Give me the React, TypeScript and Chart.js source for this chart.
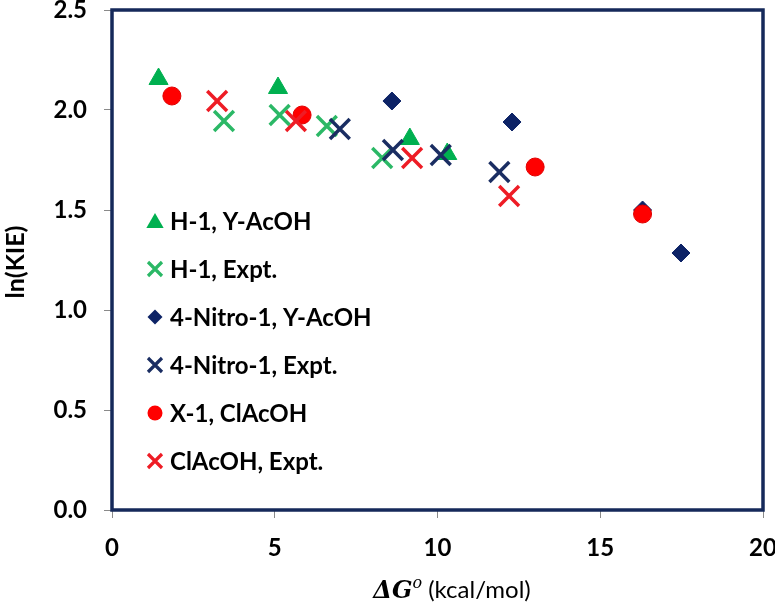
import React, { useEffect, useRef } from 'react';
import { Chart, registerables } from 'chart.js';

Chart.register(...registerables);

// ---- data ----
const hYAcOH_x = [1.43, 5.1, 9.15, 10.3];
const hYAcOH_y = [2.155, 2.11, 1.855, 1.78];

const hExpt_x = [3.44, 5.15, 6.6, 8.3];
const hExpt_y = [1.945, 1.975, 1.92, 1.76];

const nitroYAcOH_x = [8.6, 12.29, 16.3, 17.48];
const nitroYAcOH_y = [2.045, 1.94, 1.5, 1.285];

const nitroExpt_x = [7.0, 8.63, 10.1, 11.9];
const nitroExpt_y = [1.905, 1.8, 1.775, 1.69];

const x1ClAcOH_x = [1.84, 5.84, 13.0, 16.3];
const x1ClAcOH_y = [2.07, 1.975, 1.715, 1.48];

const clExpt_x = [3.23, 5.65, 9.22, 12.2];
const clExpt_y = [2.045, 1.945, 1.76, 1.57];

const seriesLabels = [
  'H-1, Y-AcOH',
  'H-1, Expt.',
  '4-Nitro-1, Y-AcOH',
  '4-Nitro-1, Expt.',
  'X-1, ClAcOH',
  'ClAcOH, Expt.',
];

const xTicks = [0, 5, 10, 15, 20];
const yTicks = [0, 0.5, 1.0, 1.5, 2.0, 2.5];

const GREEN = '#00b050';
const GREEN_X = '#2bb866';
const NAVY = '#0d2366';
const NAVY_X = '#1a2d62';
const RED = '#ff0000';
const RED_X = '#ee1c25';
const FRAME = '#15295a';

const FONT = 'Lato, "Open Sans", sans-serif';

const zip = (xs: number[], ys: number[]) => xs.map((x, i) => ({ x, y: ys[i] }));

type Marker = { style: string; color: string };
const legendMarkers: Marker[] = [
  { style: 'triangle', color: GREEN },
  { style: 'crossRot', color: GREEN_X },
  { style: 'rectRot', color: NAVY },
  { style: 'crossRot', color: NAVY_X },
  { style: 'circle', color: RED },
  { style: 'crossRot', color: RED_X },
];

function drawMarker(ctx: CanvasRenderingContext2D, m: Marker, x: number, y: number) {
  ctx.save();
  ctx.fillStyle = m.color;
  ctx.strokeStyle = m.color;
  ctx.beginPath();
  if (m.style === 'triangle') {
    const r = 10;
    ctx.moveTo(x, y - r);
    ctx.lineTo(x + r * 0.866, y + r * 0.5);
    ctx.lineTo(x - r * 0.866, y + r * 0.5);
    ctx.closePath();
    ctx.fill();
  } else if (m.style === 'crossRot') {
    const h = 7;
    ctx.lineWidth = 3.2;
    ctx.moveTo(x - h, y - h);
    ctx.lineTo(x + h, y + h);
    ctx.moveTo(x + h, y - h);
    ctx.lineTo(x - h, y + h);
    ctx.stroke();
  } else if (m.style === 'rectRot') {
    const r = 7.5;
    ctx.moveTo(x, y - r);
    ctx.lineTo(x + r, y);
    ctx.lineTo(x, y + r);
    ctx.lineTo(x - r, y);
    ctx.closePath();
    ctx.fill();
  } else {
    ctx.arc(x, y, 7.5, 0, Math.PI * 2);
    ctx.fill();
  }
  ctx.restore();
}

const decorPlugin = {
  id: 'decor',
  beforeDatasetsDraw(chart: any) {
    const { ctx, chartArea } = chart;
    ctx.save();
    ctx.strokeStyle = FRAME;
    ctx.lineWidth = 3.5;
    ctx.strokeRect(chartArea.left, chartArea.top, chartArea.right - chartArea.left, chartArea.bottom - chartArea.top);
    ctx.restore();
  },
  afterDraw(chart: any) {
    const { ctx, chartArea } = chart;
    ctx.save();
    // legend
    ctx.textBaseline = 'middle';
    ctx.textAlign = 'left';
    ctx.fillStyle = '#000';
    ctx.font = `bold 24px ${FONT}`;
    const lx = chartArea.left + 43;
    const ly0 = 221;
    const step = 48;
    seriesLabels.forEach((label, i) => {
      const y = ly0 + i * step;
      drawMarker(ctx, legendMarkers[i], lx, y + (legendMarkers[i].style === 'triangle' ? 2 : 0));
      ctx.fillStyle = '#000';
      ctx.fillText(label, lx + 15, y + 1);
    });

    // y axis title
    ctx.save();
    ctx.translate(16, 262);
    ctx.rotate(-Math.PI / 2);
    ctx.textAlign = 'center';
    ctx.textBaseline = 'middle';
    ctx.font = `bold 25px ${FONT}`;
    ctx.fillText('ln(KIE)', 0, 0);
    ctx.restore();

    // x axis title: ΔG^o (kcal/mol)
    const f1 = 'bold italic 24px "DejaVu Serif", "Liberation Serif", serif';
    const f2 = 'italic 16px "DejaVu Serif", "Liberation Serif", serif';
    const f3 = `24px ${FONT}`;
    const t1 = 'ΔG';
    const t2 = 'o';
    const t3 = ' (kcal/mol)';
    ctx.textBaseline = 'alphabetic';
    ctx.font = f1;
    const w1 = ctx.measureText(t1).width;
    ctx.font = f2;
    const w2 = ctx.measureText(t2).width;
    ctx.font = f3;
    const w3 = ctx.measureText(t3).width;
    const total = w1 + w2 + w3;
    let x = 452 - total / 2;
    const base = 598;
    ctx.font = f1;
    ctx.fillText(t1, x, base);
    x += w1;
    ctx.font = f2;
    ctx.fillText(t2, x, base - 10);
    x += w2;
    ctx.font = f3;
    ctx.fillText(t3, x, base);
    ctx.restore();
  },
};

const zeroPad = (scale: any) => {
  scale.paddingTop = 0;
  scale.paddingBottom = 0;
  scale.paddingLeft = 0;
  scale.paddingRight = 0;
};

export default function App() {
  const ref = useRef<HTMLCanvasElement>(null);

  useEffect(() => {
    document.body.style.margin = '0';
    if (!ref.current) return;
    const cross = (color: string, order: number, label: string, data: any[]) => ({
      label,
      data,
      order,
      pointStyle: 'crossRot',
      pointRadius: 14,
      pointBorderWidth: 3.5,
      borderColor: color,
      backgroundColor: color,
      showLine: false,
    });
    const chart = new Chart(ref.current, {
      type: 'scatter',
      data: {
        datasets: [
          {
            label: seriesLabels[0],
            data: zip(hYAcOH_x, hYAcOH_y),
            order: 6,
            pointStyle: 'triangle',
            pointRadius: 11,
            pointBorderWidth: 1,
            borderColor: GREEN,
            backgroundColor: GREEN,
          },
          cross(GREEN_X, 5, seriesLabels[1], zip(hExpt_x, hExpt_y)),
          {
            label: seriesLabels[2],
            data: zip(nitroYAcOH_x, nitroYAcOH_y),
            order: 4,
            pointStyle: 'rectRot',
            pointRadius: 9,
            pointBorderWidth: 1,
            borderColor: NAVY,
            backgroundColor: NAVY,
          },
          cross(NAVY_X, 3, seriesLabels[3], zip(nitroExpt_x, nitroExpt_y)),
          {
            label: seriesLabels[4],
            data: zip(x1ClAcOH_x, x1ClAcOH_y),
            order: 2,
            pointStyle: 'circle',
            pointRadius: 9,
            pointBorderWidth: 1,
            borderColor: '#e00000',
            backgroundColor: RED,
          },
          cross(RED_X, 1, seriesLabels[5], zip(clExpt_x, clExpt_y)),
        ],
      },
      options: {
        responsive: false,
        animation: false,
        layout: { autoPadding: false, padding: { top: 10, right: 12, left: 0, bottom: 0 } },
        plugins: {
          legend: { display: false },
          tooltip: { enabled: false },
        },
        scales: {
          x: {
            type: 'linear',
            min: 0,
            max: 20,
            afterBuildTicks: (scale: any) => {
              scale.ticks = xTicks.map((v) => ({ value: v }));
            },
            afterFit: (scale: any) => {
              scale.height = 98;
              zeroPad(scale);
            },
            grid: {
              drawOnChartArea: false,
              drawTicks: true,
              tickLength: 8,
              color: '#8a8a8a',
              tickWidth: 1,
            },
            border: { display: false },
            ticks: {
              padding: 16,
              color: '#000',
              font: { family: FONT, size: 24, weight: 'bold' },
              callback: (v: any) => String(v),
              maxRotation: 0,
            },
          },
          y: {
            type: 'linear',
            min: 0,
            max: 2.5,
            afterBuildTicks: (scale: any) => {
              scale.ticks = yTicks.map((v) => ({ value: v }));
            },
            afterFit: (scale: any) => {
              scale.width = 112;
              zeroPad(scale);
            },
            grid: {
              drawOnChartArea: false,
              drawTicks: true,
              tickLength: 8,
              color: '#8a8a8a',
              tickWidth: 1,
            },
            border: { display: false },
            ticks: {
              padding: 17,
              color: '#000',
              font: { family: FONT, size: 24, weight: 'bold' },
              callback: (v: any) => Number(v).toFixed(1),
            },
          },
        },
      },
      plugins: [decorPlugin],
    } as any);
    return () => chart.destroy();
  }, []);

  return (
    <div style={{ position: 'absolute', left: 0, top: 0, width: 775, height: 608, background: '#fff' }}>
      <canvas ref={ref} width={775} height={608} style={{ display: 'block' }} />
    </div>
  );
}
